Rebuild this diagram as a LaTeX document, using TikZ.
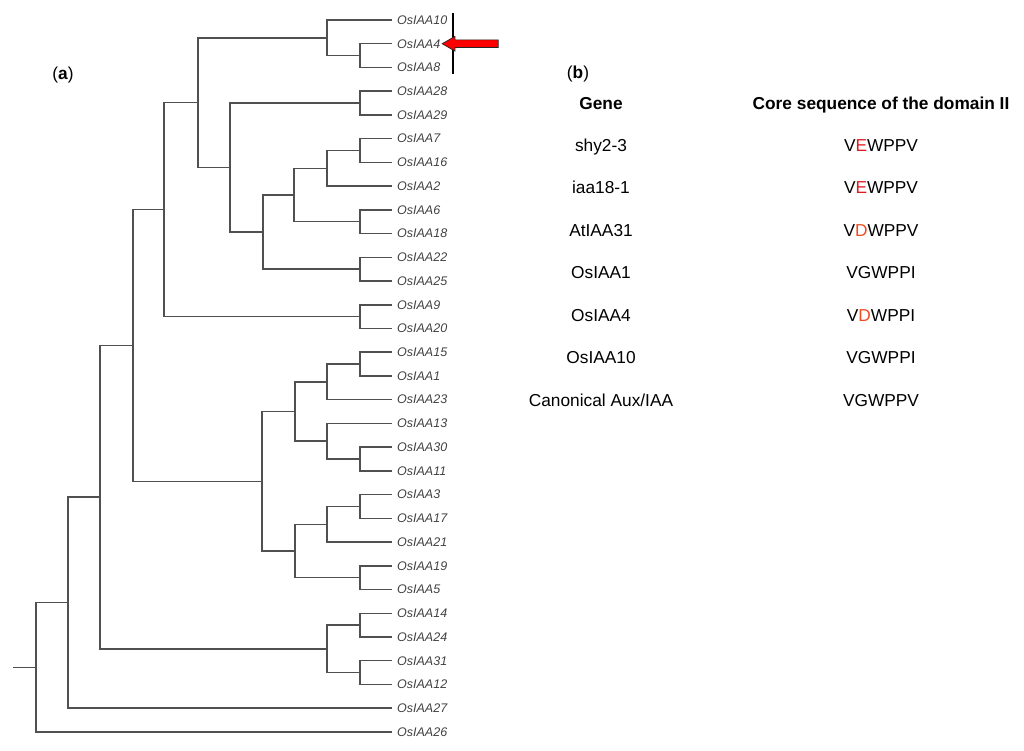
\documentclass[tikz,border=0pt]{standalone}
\usepackage{fontspec}
\setmainfont{Liberation Sans}
\usepackage{xcolor}
\usetikzlibrary{positioning, shapes.arrows, calc}
\definecolor{branchgray}{RGB}{80,80,80}
\definecolor{labelgray}{RGB}{65,65,65}
\definecolor{mutE}{RGB}{225,25,30}
\definecolor{mutD}{RGB}{240,75,30}

\begin{document}
\begin{tikzpicture}[x=1pt, y=-1pt, every node/.style={inner sep=0pt},
    branch/.style={draw=branchgray, line width=1.5pt},
    leaflab/.style={font=\fontsize{12.5}{14}\selectfont\itshape, text=labelgray},
    txt/.style={font=\fontsize{17.3}{20}\selectfont, anchor=base},
    head/.style={font=\fontsize{17.3}{20}\selectfont\bfseries, anchor=base}]
    \useasboundingbox (0,0) rectangle (1024,750);
    % (a) tree, one row per leaf
    \begin{scope}[y=-23.73pt, yshift=-20pt]
        \foreach \i/\g in {0/OsIAA10,1/OsIAA4,2/OsIAA8,3/OsIAA28,4/OsIAA29,5/OsIAA7,6/OsIAA16,7/OsIAA2,8/OsIAA6,9/OsIAA18,10/OsIAA22,11/OsIAA25,12/OsIAA9,13/OsIAA20,14/OsIAA15,15/OsIAA1,16/OsIAA23,17/OsIAA13,18/OsIAA30,19/OsIAA11,20/OsIAA3,21/OsIAA17,22/OsIAA21,23/OsIAA19,24/OsIAA5,25/OsIAA14,26/OsIAA24,27/OsIAA31,28/OsIAA12,29/OsIAA27,30/OsIAA26} {
            \coordinate (l\i) at (392,\i);
            \node[leaflab, right=5pt of l\i] (n\i) {\g};
        }
        \foreach \k/\xx/\t in {jA48/360/1.5, jA10/327/0.75, jA28/360/3.5, jA7/360/5.5, jA2/327/6.25, jA6/360/8.5, jL/294/7.375, jA22/360/10.5, jK/263/8.9375, jJ/230/6.21875, jG/198/3.484, jA9/360/12.5, jE/164/7.992, jA15/360/14.5, jA23/327/15.25, jA30/360/18.5, jA13/327/17.75, jN/295/16.5, jA3/360/20.5, jA21/327/21.25, jA19/360/23.5, jO/295/22.375, jF/262/19.4375, jC/133/13.715, jA14/360/25.5, jA31/360/27.5, jD/327/26.5, jB/100/20.107, jA/68/24.554, jR/36/27.277, root/13/27.277} {
            \coordinate (\k) at (\xx,\t);
        }
        \draw[branch] (root) -- (jR);
        \foreach \p/\c in {jR/jA, jR/l30, jA/jB, jA/l29, jB/jC, jB/jD,
            jD/jA14, jD/jA31, jA14/l25, jA14/l26, jA31/l27, jA31/l28,
            jC/jE, jC/jF, jE/jG, jE/jA9, jA9/l12, jA9/l13,
            jG/jA10, jG/jJ, jA10/l0, jA10/jA48, jA48/l1, jA48/l2,
            jJ/jA28, jJ/jK, jA28/l3, jA28/l4, jK/jL, jK/jA22, jA22/l10, jA22/l11,
            jL/jA2, jL/jA6, jA2/jA7, jA2/l7, jA7/l5, jA7/l6, jA6/l8, jA6/l9,
            jF/jN, jF/jO, jN/jA23, jN/jA13, jA23/jA15, jA23/l16, jA15/l14, jA15/l15,
            jA13/l17, jA13/jA30, jA30/l18, jA30/l19,
            jO/jA21, jO/jA19, jA21/jA3, jA21/l22, jA3/l20, jA3/l21, jA19/l23, jA19/l24} {
            \draw[branch] (\p) |- (\c);
        }
    \end{scope}
    % marker on OsIAA4
    \coordinate (bartop) at (453,13);
    \coordinate (barbot) at (453,74);
    \draw[line width=1.8pt] (bartop) -- (barbot);
    \node[single arrow, draw=black!85, fill=red, line width=0.7pt, shape border rotate=180,
        single arrow tip angle=60, single arrow head extend=3.5pt, inner sep=3.5pt,
        minimum height=56pt, anchor=tip] (mark) at ($(n1.east)+(1,0)$) {};
    % (b) table
    \node[txt] (laba) at (63,79.5) {(\textbf{a})};
    \node[txt] (labb) at (578,78.5) {(\textbf{b})};
    \node[head] (gene) at (601,109.3) {Gene};
    \node[head] (core) at (881,109.3) {Core sequence of the domain II};
    \foreach \i/\g/\s in {0/shy2-3/V\textcolor{mutE}{E}WPPV, 1/iaa18-1/V\textcolor{mutE}{E}WPPV,
        2/AtIAA31/V\textcolor{mutD}{D}WPPV, 3/OsIAA1/VGWPPI, 4/OsIAA4/V\textcolor{mutD}{D}WPPI,
        5/OsIAA10/VGWPPI, 6/{Canonical Aux/IAA}/VGWPPV} {
        \node[txt] (g\i) at (601,{151.3+42.5*\i}) {\g};
        \node[txt] (s\i) at (881,{151.3+42.5*\i}) {\s};
    }
\end{tikzpicture}
\end{document}
